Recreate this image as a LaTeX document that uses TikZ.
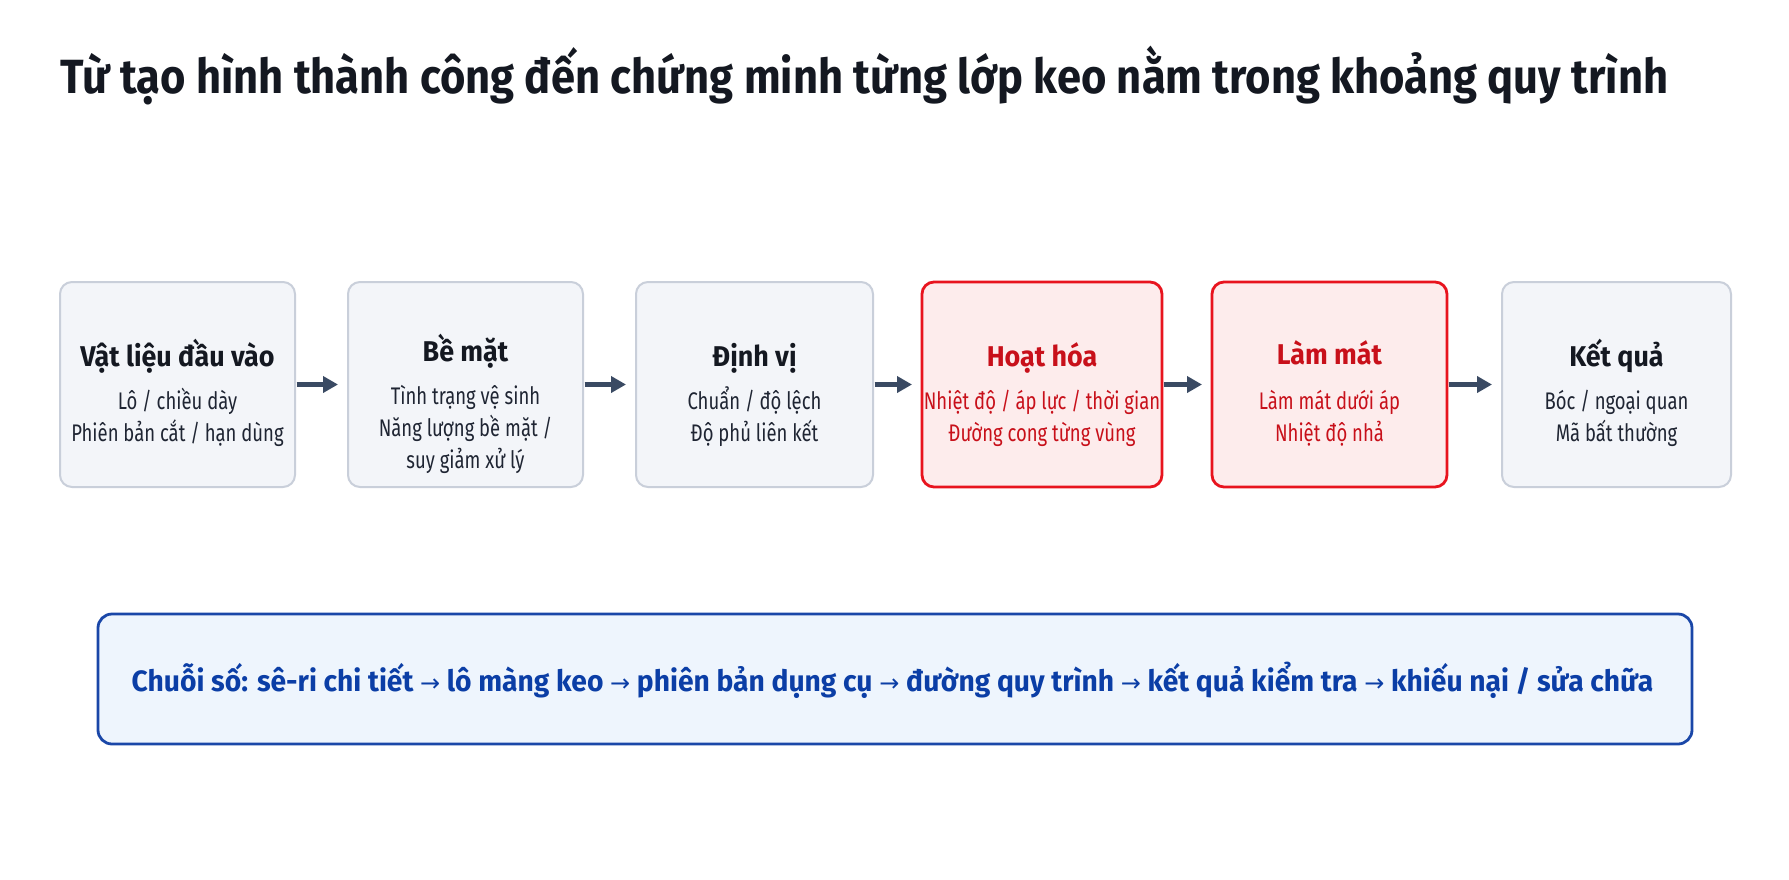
\documentclass[tikz,border=0pt]{standalone}
\usepackage{fontspec}
\setmainfont{Fira Sans}
\newfontfamily\titlefont{Fira Sans}[FakeStretch=0.906]
\newfontfamily\headfont{Fira Sans}[FakeStretch=0.94]
\newfontfamily\bodyfont{Fira Sans}[FakeStretch=0.77]
\newfontfamily\chainfont{Fira Sans}[FakeStretch=0.96]
\newfontfamily\arrowfont{DejaVu Sans}
\usetikzlibrary{positioning,arrows.meta}

\definecolor{stageline}{HTML}{C9CFDA}
\definecolor{stagefill}{HTML}{F3F5F9}
\definecolor{hotline}{HTML}{E8141E}
\definecolor{hotfill}{HTML}{FDECEC}
\definecolor{hottext}{HTML}{C8101A}
\definecolor{headcol}{HTML}{141821}
\definecolor{bodycol}{HTML}{1F2533}
\definecolor{arrowcol}{HTML}{3A4A63}
\definecolor{chainline}{HTML}{1A47A8}
\definecolor{chainfill}{HTML}{EEF5FD}
\definecolor{chaintext}{HTML}{0B3EA6}

\newcommand{\chainarrow}{{\arrowfont\mdseries\fontsize{12}{14}\selectfont →}}

\tikzset{
    stage/.style={draw=stageline, fill=stagefill, line width=1pt, rounded corners=6pt,
        minimum width=117.5pt, minimum height=102.5pt, inner sep=0pt, outer sep=0pt},
    hotstage/.style={stage, draw=hotline, fill=hotfill, line width=1.4pt},
    head/.style={font=\headfont\bfseries\fontsize{14.3}{17}\selectfont, text=headcol, anchor=base, inner sep=0pt},
    body/.style={font=\bodyfont\fontsize{12}{16.2}\selectfont, text=bodycol, align=center, anchor=base, inner sep=0pt},
    flow/.style={draw=arrowcol, line width=2.3pt, -{Triangle[length=7.5pt,width=8pt]},
        shorten >=5pt, shorten <=0.8pt}
}

\begin{document}
\begin{tikzpicture}[x=0.5pt, y=-0.5pt]
    \useasboundingbox (0,0) rectangle (1789,879);
    \fill[white] (0,0) rectangle (1789,879);

    % title
    \node[anchor=base west, inner sep=0pt, text=headcol,
        font=\titlefont\bfseries\fontsize{24}{28}\selectfont] (title) at (60,93)
        {Từ tạo hình thành công đến chứng minh từng lớp keo nằm trong khoảng quy trình};

    % stages
    \node[stage] (mat) at (177.5,384.5) {};
    \node[stage, right=26.5pt of mat] (surf) {};
    \node[stage, minimum width=118.5pt, right=26.5pt of surf] (pos) {};
    \node[hotstage, minimum width=120pt, right=24.5pt of pos] (act) {};
    \node[hotstage, right=25pt of act] (cool) {};
    \node[stage, minimum width=114.5pt, right=27.5pt of cool] (res) {};

    % base of a body node = its last line
    \node[head] (mat-h) at ([yshift=-42pt]mat.north) {Vật liệu đầu vào};
    \node[body] (mat-b) at ([yshift=-79.7pt]mat.north) {Lô / chiều dày\\Phiên bản cắt / hạn dùng};

    \node[head] (surf-h) at ([yshift=-39.5pt]surf.north) {Bề mặt};
    \node[body] (surf-b) at ([yshift=-93.4pt]surf.north) {Tình trạng vệ sinh\\Năng lượng bề mặt /\\suy giảm xử lý};

    \node[head] (pos-h) at ([yshift=-42pt]pos.north) {Định vị};
    \node[body] (pos-b) at ([yshift=-79.7pt]pos.north) {Chuẩn / độ lệch\\Độ phủ liên kết};

    \node[head, text=hottext] (act-h) at ([yshift=-42pt]act.north) {Hoạt hóa};
    \node[body, text=hottext] (act-b) at ([yshift=-79.7pt]act.north) {Nhiệt độ / áp lực / thời gian\\Đường cong từng vùng};

    \node[head, text=hottext] (cool-h) at ([yshift=-41pt]cool.north) {Làm mát};
    \node[body, text=hottext] (cool-b) at ([yshift=-79.7pt]cool.north) {Làm mát dưới áp\\Nhiệt độ nhả};

    \node[head] (res-h) at ([yshift=-42pt]res.north) {Kết quả};
    \node[body] (res-b) at ([yshift=-79.7pt]res.north) {Bóc / ngoại quan\\Mã bất thường};

    \foreach \a/\b in {mat/surf, surf/pos, pos/act, act/cool, cool/res}
        \draw[flow] (\a.east) -- (\b.west);

    % digital chain
    \node[draw=chainline, fill=chainfill, line width=1.4pt, rounded corners=7pt,
        minimum width=797pt, minimum height=65pt, inner sep=0pt, outer sep=0pt] (chain) at (895,679) {};
    \node[anchor=base, inner sep=0pt, text=chaintext, font=\chainfont\bfseries\fontsize{14.7}{17}\selectfont]
        (chain-t) at (892.5,691)
        {Chuỗi số: sê-ri chi tiết \chainarrow{} lô màng keo \chainarrow{} phiên bản dụng cụ \chainarrow{} đường quy trình \chainarrow{} kết quả kiểm tra \chainarrow{} khiếu nại / sửa chữa};
\end{tikzpicture}
\end{document}
